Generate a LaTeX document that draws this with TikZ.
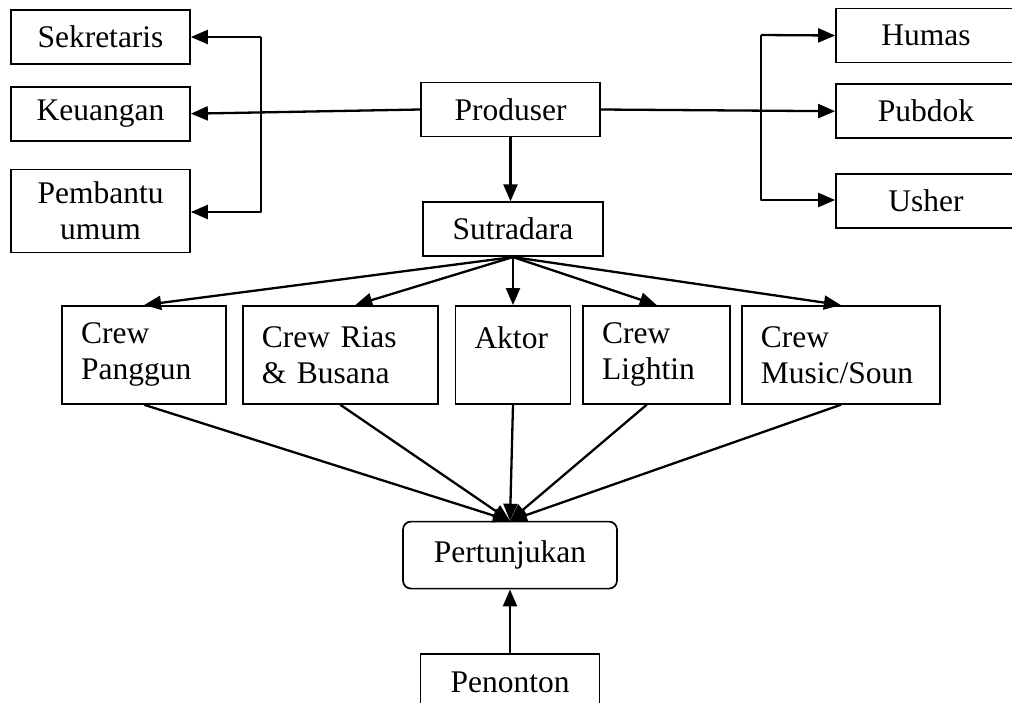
\documentclass[tikz,border=0pt]{standalone}
\usepackage{fontspec}
\setmainfont{Liberation Serif}
\usepackage{tikz}
\usetikzlibrary{arrows.meta, positioning}
\usepackage{xcolor}
\definecolor{Ink}{gray}{0}
\tikzset{%
  box/.style={%
    rectangle,%
    draw=Ink,%
    line width=1.7pt,%
    minimum width=179pt,%
    minimum height=54pt,%
    inner sep=0pt,%
    align=center%
  },
  crewbox/.style={%
    box,%
    minimum width=0pt,%
    minimum height=98pt,%
    inner xsep=19pt,%
    align=left%
  },
  showbox/.style={%
    box,%
    rounded corners=8pt,%
    minimum width=214pt,%
    minimum height=67pt%
  },
  link/.style={%
    color=Ink,%
    line width=2.3pt,%
    line join=round%
  },
  arrow/.style={-{Triangle[length=17pt, width=14pt]}},
}

\begin{document}
\begin{tikzpicture}[x=1pt, y=1pt, font=\fontsize{31.5}{36}\selectfont]

    \useasboundingbox (0,0) rectangle (1012,-702);
    \clip (0,0) rectangle (1012,-702);

    \node [box] (Produser) at (510.5,-109.5) {Produser};
    \node [box, minimum width=180pt, below = 64 of Produser, xshift=2.5pt] (Sutradara) {Sutradara};

    \node [box] (Sekretaris) at (100.5,-37) {Sekretaris};
    \node [box, below = 21 of Sekretaris] (Keuangan) {Keuangan};
    \node [box, minimum height=83pt, below = 26 of Keuangan, yshift=-1pt] (Pembantu) {Pembantu\\umum};

    \node [box, minimum width=180pt] (Humas) at (926,-35.5) {Humas};
    \node [box, minimum width=180pt, below = 20 of Humas] (Pubdok) {Pubdok};
    \node [box, minimum width=180pt, below = 34 of Pubdok] (Usher) {Usher};

    \node [crewbox, text width=77pt, text depth=34pt, below = 48 of Sutradara] (Aktor) {Aktor};
    \node [crewbox, text width=109pt, right = 11 of Aktor] (Lightin) {Crew\\Lightin};
    \node [crewbox, text width=160pt, right = 10 of Lightin] (Music) {Crew\\Music/Soun};
    \node [crewbox, text width=157pt, left = 16 of Aktor] (Rias) {Crew Rias\\\& Busana};
    \node [crewbox, text width=126pt, left = 15 of Rias] (Panggun) {Crew\\Panggun};

    \node [showbox, below = 116 of Aktor, xshift=-3pt] (Pertunjukan) {Pertunjukan};
    \node [box, minimum height=56pt, below = 64 of Pertunjukan] (Penonton) {Penonton};

    \coordinate (LeftTop) at (261,-37);
    \coordinate (LeftBottom) at (261,-212);
    \coordinate (RightTop) at (761,-35);
    \coordinate (RightBottom) at (761,-200);

    % produser to the side units
    \draw [arrow, link]
      (Produser.west)
      --
      (Keuangan.east);
    \draw [arrow, link]
      (LeftTop)
      --
      (Sekretaris.east);
    \draw [arrow, link]
      (LeftTop)
      --
      (LeftBottom)
      --
      (LeftBottom -| Pembantu.east);
    \draw [arrow, link]
      (Produser.east)
      --
      (Pubdok.west);
    \draw [arrow, link]
      (RightTop)
      --
      (Humas.west);
    \draw [arrow, link]
      (RightTop)
      --
      (RightBottom)
      --
      (RightBottom -| Usher.west);

    \draw [arrow, link]
      (Produser.south)
      --
      (Produser.south |- Sutradara.north);

    % sutradara to the crews
    \foreach \crew in {Panggun, Aktor, Lightin, Music} {
      \draw [arrow, link]
        (Sutradara.south)
        --
        (\crew.north);
    }
    \draw [arrow, link]
      (Sutradara.south)
      --
      ([xshift=15pt]Rias.north);

    % crews to the show
    \foreach \crew in {Panggun, Rias, Aktor, Music} {
      \draw [arrow, link]
        (\crew.south)
        --
        (Pertunjukan.north);
    }
    \draw [arrow, link]
      ([xshift=-10pt]Lightin.south)
      --
      (Pertunjukan.north);

    \draw [arrow, link]
      (Penonton.north)
      --
      (Penonton.north |- Pertunjukan.south);

\end{tikzpicture}
\end{document}
